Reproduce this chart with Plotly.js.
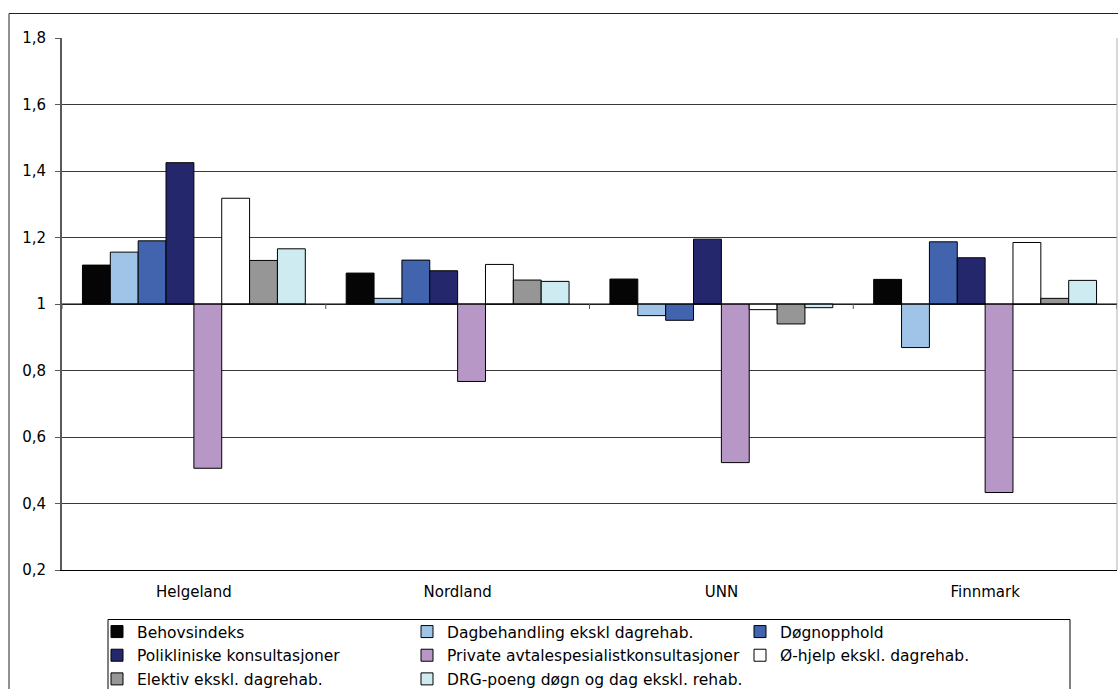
<!DOCTYPE html>
<html>
<head>
<meta charset="utf-8">
<script src="https://cdn.plot.ly/plotly-3.0.1.min.js"></script>
<style>
  html, body { margin: 0; padding: 0; background: #ffffff; }
  #chart { width: 1118px; height: 689px; }
</style>
</head>
<body>
<div id="chart"></div>
<script>
// Categories (helseforetak)
const categories = ["Helgeland", "Nordland", "UNN", "Finnmark"];

// Series names
const seriesNames = [
  "Behovsindeks",
  "Dagbehandling ekskl dagrehab.",
  "Døgnopphold",
  "Polikliniske konsultasjoner",
  "Private avtalespesialistkonsultasjoner",
  "Ø-hjelp ekskl. dagrehab.",
  "Elektiv ekskl. dagrehab.",
  "DRG-poeng døgn og dag ekskl. rehab."
];

// Index values per series (Helgeland, Nordland, UNN, Finnmark)
const behovsindeks   = [1.117, 1.093, 1.075, 1.074];
const dagbehandling  = [1.156, 1.017, 0.965, 0.869];
const dognopphold    = [1.190, 1.132, 0.951, 1.187];
const polikliniske   = [1.425, 1.100, 1.195, 1.139];
const privateAvtale  = [0.506, 0.767, 0.523, 0.433];
const ohjelp         = [1.318, 1.119, 0.983, 1.185];
const elektiv        = [1.131, 1.072, 0.940, 1.017];
const drgPoeng       = [1.166, 1.068, 0.989, 1.071];

// Y axis tick values
const yTicks = [0.2, 0.4, 0.6, 0.8, 1, 1.2, 1.4, 1.6, 1.8];
const baseValue = 1;

const seriesValues = [behovsindeks, dagbehandling, dognopphold, polikliniske,
                      privateAvtale, ohjelp, elektiv, drgPoeng];
const seriesColors = ["#050505", "#9FC4E8", "#4263AD", "#25276D",
                      "#B797C6", "#FFFFFF", "#969696", "#CDEBF0"];
const legendOf = ["legend", "legend2", "legend3", "legend",
                  "legend2", "legend3", "legend", "legend2"];

const FONT = "DejaVu Sans, Verdana, sans-serif";

const traces = seriesNames.map((name, i) => ({
  type: "bar",
  name: name,
  x: categories,
  y: seriesValues[i].map(v => v - baseValue),
  base: seriesValues[i].map(() => baseValue),
  marker: { color: seriesColors[i], line: { color: "#000000", width: 1 } },
  legend: legendOf[i],
  legendgroup: "g" + i,
  hovertemplate: name + ": %{customdata}<extra></extra>",
  customdata: seriesValues[i]
}));

// plot area pixel geometry
const L = 62, R = 1, T = 38, B = 119, W = 1118, H = 689;
const pw = W - L - R, ph = H - T - B;
const px = x => (x - L) / pw;
const py = y => (H - B - y) / ph;

const legendCommon = {
  orientation: "v",
  bgcolor: "rgba(0,0,0,0)",
  borderwidth: 0,
  font: { family: FONT, size: 15.5, color: "#000000" },
  xanchor: "left",
  yanchor: "top",
  tracegroupgap: 0.5,
  itemclick: false,
  itemdoubleclick: false
};

const shapes = [
  // outer chart border
  { type: "rect", xref: "paper", yref: "paper",
    x0: px(9), x1: px(1130), y0: py(720), y1: py(13.5),
    line: { color: "#222222", width: 1 }, layer: "below" },
  // right plot border
  { type: "line", xref: "paper", yref: "paper",
    x0: 1, x1: 1, y0: 0, y1: 1,
    line: { color: "#b0b0b0", width: 1 } },
  // category axis crossing at 1
  { type: "line", xref: "paper", yref: "y",
    x0: 0, x1: 1, y0: baseValue, y1: baseValue,
    line: { color: "#000000", width: 1 } },
  // legend box
  { type: "rect", xref: "paper", yref: "paper",
    x0: px(108), x1: px(1070), y0: py(720), y1: py(619.5),
    line: { color: "#000000", width: 1 }, fillcolor: "#ffffff", layer: "below" }
];
// boundary ticks on the crossing axis
for (let k = 0; k <= categories.length; k++) {
  shapes.push({ type: "line", xref: "x", yref: "y", ysizemode: "pixel",
    yanchor: baseValue, x0: k - 0.5, x1: k - 0.5, y0: 0, y1: -5,
    line: { color: "#555555", width: 1 } });
}

const layout = {
  width: W, height: H,
  margin: { l: L, r: R, t: T, b: B, pad: 0, autoexpand: false },
  paper_bgcolor: "#ffffff",
  plot_bgcolor: "#ffffff",
  separators: ", ",
  font: { family: FONT, size: 15, color: "#000000" },
  barmode: "group",
  bargap: 0.155,
  bargroupgap: 0,
  xaxis: {
    type: "category",
    range: [-0.5, categories.length - 0.5],
    showgrid: false,
    showline: true, linecolor: "#000000", linewidth: 1,
    ticks: "", zeroline: false,
    tickfont: { family: FONT, size: 15, color: "#000000" },
    ticklabelstandoff: 8
  },
  yaxis: {
    range: [0.2, 1.8],
    tickvals: yTicks,
    ticktext: yTicks.map(v => String(v).replace(".", ",")),
    showgrid: true, gridcolor: "#3a3a3a", gridwidth: 1,
    showline: true, linecolor: "#5a5a5a", linewidth: 2,
    ticks: "outside", ticklen: 5, tickcolor: "#5a5a5a", tickwidth: 1,
    zeroline: false,
    tickfont: { family: FONT, size: 15, color: "#000000" },
    ticklabelstandoff: 6
  },
  showlegend: true,
  legend:  Object.assign({}, legendCommon, { x: px(97),  y: py(615) }),
  legend2: Object.assign({}, legendCommon, { x: px(407), y: py(615) }),
  legend3: Object.assign({}, legendCommon, { x: px(740), y: py(615) }),
  shapes: shapes
};

Plotly.newPlot("chart", traces, layout, { displayModeBar: false, staticPlot: true });
</script>
</body>
</html>
